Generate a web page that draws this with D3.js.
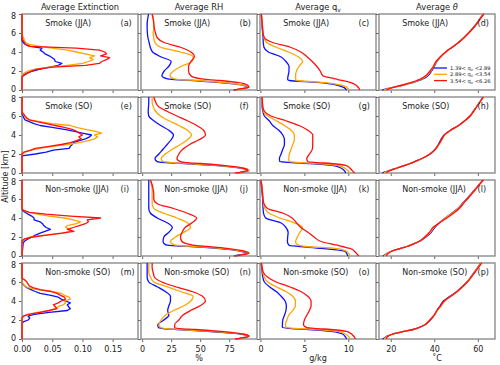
<!DOCTYPE html>
<html>
<head>
<meta charset="utf-8">
<script src="https://cdn.jsdelivr.net/npm/d3@7"></script>
<style>
body { margin: 0; background: #fff; }
svg text { font-family: "DejaVu Sans", sans-serif; fill: #222; }
</style>
</head>
<body>
<div id="chart"></div>
<script>
// altitude grids (km)
var ext_alt = [0, 1.4, 1.6, 1.8, 2.0, 2.2, 2.4, 2.6, 2.8, 3.0, 3.2, 3.4, 3.6, 3.8, 4.0, 4.2, 4.4, 4.6, 4.8, 5.0, 5.2, 5.4, 5.6, 5.8, 6.0, 6.2, 6.4, 8];
var prof_alt = [0, 0.1, 0.2, 0.3, 0.5, 0.8, 1.0, 1.1, 1.2, 1.5, 2.0, 2.5, 3.0, 3.5, 4.0, 4.5, 5.0, 5.5, 6.0, 6.5, 7.0, 7.5, 8.0];

var colTitles = ['Average Extinction', 'Average RH', 'Average q', 'Average '];
var rowNames = ['Smoke (JJA)', 'Smoke (SO)', 'Non-smoke (JJA)', 'Non-smoke (SO)'];
var panelLetters = ['a','b','c','d','e','f','g','h','i','j','k','l','m','n','o','p'];
var legendLabels = [['1.39< q', ' <2.89'], ['2.89< q', ' <3.54'], ['3.54< q', ' <6.26']];
var xUnits = ['', '%', 'g/kg', '\u02DAC'];
var yTicks = [0, 2, 4, 6, 8];
var xTicks = [[0, 0.05, 0.10, 0.15], [0, 25, 50, 75], [0, 5, 10], [20, 40, 60]];

// extinction
var ext_a_blue = [0, 0, 0.003, 0.009, 0.018, 0.03, 0.046, 0.06, 0.066, 0.055, 0.054, 0.05, 0.045, 0.038, 0.035, 0.03, 0.033, 0.014, 0.005, 0.002, 0, 0, 0, 0, 0, 0, 0, 0];
var ext_a_orange = [0, 0, 0, 0.004, 0.01, 0.022, 0.045, 0.075, 0.1, 0.11, 0.118, 0.112, 0.12, 0.105, 0.09, 0.075, 0.05, 0.03, 0.012, 0.006, 0.004, 0.003, 0.002, 0, 0, 0, 0, 0];
var ext_a_red = [0, 0, 0.005, 0.01, 0.016, 0.025, 0.05, 0.105, 0.128, 0.132, 0.14, 0.145, 0.13, 0.14, 0.137, 0.128, 0.09, 0.012, 0.006, 0.004, 0.002, 0, 0, 0, 0, 0, 0, 0];
var ext_e_blue = [0, 0, 0, 0, 0.022, 0.04, 0.052, 0.078, 0.08, 0.083, 0.085, 0.095, 0.105, 0.112, 0.115, 0.1, 0.085, 0.07, 0.05, 0.03, 0.02, 0.012, 0.005, 0.003, 0.002, 0, 0, 0];
var ext_e_orange = [0, 0, 0, 0, 0, 0.005, 0.015, 0.03, 0.05, 0.075, 0.095, 0.11, 0.12, 0.125, 0.12, 0.132, 0.12, 0.105, 0.09, 0.08, 0.05, 0.03, 0.012, 0.006, 0.004, 0.002, 0, 0];
var ext_e_red = [0, 0, 0, 0, 0, 0.003, 0.015, 0.022, 0.045, 0.065, 0.08, 0.09, 0.098, 0.094, 0.1, 0.095, 0.09, 0.083, 0.07, 0.055, 0.04, 0.025, 0.012, 0.008, 0.005, 0.003, 0, 0];
var ext_i_blue = [0, 0.002, 0.005, 0.01, 0.016, 0.022, 0.03, 0.038, 0.047, 0.04, 0.036, 0.034, 0.03, 0.02, 0.02, 0.016, 0.01, 0.005, 0.001, 0, 0, 0, 0, 0, 0, 0, 0, 0];
var ext_i_orange = [0, 0, 0, 0.006, 0.013, 0.04, 0.07, 0.078, 0.08, 0.072, 0.075, 0.09, 0.097, 0.085, 0.07, 0.045, 0.025, 0.012, 0.003, 0, 0, 0, 0, 0, 0, 0, 0, 0];
var ext_i_red = [0, 0, 0, 0.004, 0.018, 0.04, 0.065, 0.086, 0.075, 0.085, 0.095, 0.105, 0.11, 0.108, 0.13, 0.08, 0.04, 0.012, 0.002, 0, 0, 0, 0, 0, 0, 0, 0, 0];
var ext_m_blue = [0, 0, 0, 0.002, 0.01, 0.013, 0.01, 0.02, 0.045, 0.075, 0.08, 0.077, 0.075, 0.08, 0.072, 0.065, 0.06, 0.048, 0.03, 0.022, 0.015, 0.008, 0.004, 0.001, 0, 0, 0, 0];
var ext_m_orange = [0, 0, 0, 0, 0, 0, 0.003, 0.012, 0.025, 0.045, 0.055, 0.06, 0.068, 0.072, 0.07, 0.08, 0.078, 0.07, 0.065, 0.05, 0.025, 0.01, 0.004, 0.002, 0, 0, 0, 0];
var ext_m_red = [0, 0, 0, 0, 0, 0, 0.002, 0.01, 0.03, 0.045, 0.058, 0.055, 0.052, 0.06, 0.065, 0.072, 0.07, 0.064, 0.058, 0.048, 0.03, 0.018, 0.012, 0.01, 0.008, 0.005, 0, 0];

// relative humidity (%)
var rh_b_blue = [79, 84, 89, 91, 87, 65, 44, 28, 21, 17, 19, 23, 25, 16, 9, 7, 6, 5, 4.5, 4.3, 4.3, 4.8, 5.5];
var rh_b_orange = [80, 85, 90, 92, 88, 68, 48, 32, 27, 24, 27, 34, 43, 44, 33, 16, 11, 10, 9.5, 10, 10, 9.5, 8.6];
var rh_b_red = [79, 83, 89, 92, 91, 82, 67, 57, 50, 42, 40, 40, 42, 45, 42, 33, 19, 13, 11.5, 10.5, 10, 9.5, 8.6];
var rh_f_blue = [82, 86, 91, 92, 86, 62, 36, 20, 13, 11, 14.4, 18, 21.5, 25, 27, 23, 16, 10, 5.7, 5.2, 5.5, 5.7, 5.7];
var rh_f_orange = [82, 86, 90, 92, 87, 64, 40, 25, 18, 16.4, 20, 26, 33, 39, 42.5, 39, 31.6, 23, 15.8, 11.5, 9.5, 8.6, 8.6];
var rh_f_red = [80, 85, 89, 91, 87, 70, 50, 38, 33, 30, 31.6, 35, 41, 49, 54.6, 53, 47, 39, 30, 21.5, 14, 11.5, 10];
var rh_j_blue = [79, 82, 88, 90.5, 85, 65, 42, 26, 20, 18, 18.7, 23, 26, 21.5, 13, 7.2, 5.7, 5.7, 5.7, 5.7, 5.7, 5.7, 5.7];
var rh_j_orange = [80, 84, 89, 92, 87, 68, 48, 32, 27, 24.4, 28.7, 36, 41.7, 39, 30, 18.7, 10, 8.6, 8.6, 8.6, 8.6, 7.9, 7.2];
var rh_j_red = [80, 85, 90, 92, 88, 73, 56, 47, 42, 34.5, 33, 34.5, 37, 43, 47, 39, 27, 13, 10, 10, 9.5, 8.6, 7.2];
var rh_n_blue = [82, 85, 90, 92, 86, 56, 30, 18, 14, 13.5, 18.7, 23, 22, 23, 24.4, 24.4, 20, 13, 5.7, 4.3, 4.3, 4.3, 4.3];
var rh_n_orange = [82, 86, 90, 92, 87, 60, 33, 20, 16, 14.4, 16.4, 20, 27, 36, 42, 44, 33, 21.5, 10, 7.2, 5.7, 5.7, 5.7];
var rh_n_red = [80, 85, 90, 92, 88, 68, 46, 32, 28, 28, 31.6, 35, 41.7, 50, 54.6, 52, 43, 28.7, 17, 10.6, 9.5, 8.6, 8.6];

// water vapour mixing ratio (g/kg)
var qv_c_blue = [9.8, 9.7, 9.6, 9.4, 8.8, 6.5, 3.3, 3.1, 3.1, 3.15, 3.25, 3.25, 2.9, 2.3, 0.9, 0.4, 0.32, 0.3, 0.25, 0.2, 0.18, 0.15, 0.1];
var qv_c_orange = [10.1, 10.0, 9.9, 9.8, 9.2, 7.0, 4.2, 4.0, 4.0, 4.0, 4.1, 4.4, 4.8, 4.3, 3.2, 1.8, 0.7, 0.4, 0.3, 0.25, 0.2, 0.15, 0.1];
var qv_c_red = [11.3, 11.25, 11.2, 11.1, 10.9, 10.2, 9.3, 8.8, 8.4, 7.1, 6.8, 6.4, 5.9, 5.3, 4.6, 3.4, 1.4, 0.45, 0.3, 0.25, 0.2, 0.15, 0.1];
var qv_g_blue = [9.7, 9.65, 9.6, 9.5, 9.2, 8.2, 5.6, 3.5, 2.2, 2.16, 2.35, 2.54, 2.73, 2.73, 2.54, 2.1, 1.4, 1.0, 0.45, 0.27, 0.19, 0.19, 0.19];
var qv_g_orange = [10.1, 10.05, 10.0, 9.9, 9.6, 8.8, 6.5, 4.6, 3.3, 3.22, 3.3, 3.48, 3.67, 3.86, 3.86, 3.48, 2.73, 1.8, 0.83, 0.34, 0.27, 0.22, 0.19];
var qv_g_red = [10.7, 10.6, 10.5, 10.4, 10.2, 9.7, 8.0, 6.5, 5.4, 5.27, 5.57, 5.9, 5.95, 5.95, 5.95, 5.4, 4.4, 2.9, 1.2, 0.45, 0.27, 0.22, 0.19];
var qv_k_blue = [9.95, 9.9, 9.85, 9.8, 9.6, 7.0, 4.5, 3.3, 3.2, 3.07, 3.1, 3.15, 2.9, 2.3, 0.6, 0.35, 0.3, 0.27, 0.25, 0.2, 0.15, 0.1, 0.05];
var qv_k_orange = [10.2, 10.15, 10.1, 10.0, 9.8, 8.5, 5.2, 4.5, 4.2, 4.0, 4.2, 4.5, 4.8, 3.8, 2.2, 1.0, 0.5, 0.35, 0.3, 0.25, 0.2, 0.15, 0.05];
var qv_k_red = [11.2, 11.1, 11.0, 10.9, 10.7, 10.2, 9.3, 8.9, 8.4, 7.0, 6.1, 5.4, 4.6, 4.1, 3.6, 2.6, 0.8, 0.4, 0.3, 0.25, 0.2, 0.15, 0.05];
var qv_o_blue = [9.8, 9.75, 9.7, 9.6, 9.4, 8.0, 5.5, 3.5, 2.5, 2.5, 2.54, 2.73, 2.9, 2.95, 2.8, 2.35, 1.8, 1.02, 0.45, 0.27, 0.19, 0.15, 0.08];
var qv_o_orange = [10.2, 10.15, 10.1, 10.0, 9.7, 8.8, 6.5, 4.5, 2.9, 2.85, 3.0, 3.22, 3.67, 3.98, 3.98, 3.67, 2.9, 1.78, 0.83, 0.45, 0.27, 0.2, 0.1];
var qv_o_red = [10.8, 10.75, 10.7, 10.6, 10.4, 9.8, 8.0, 6.5, 5.3, 4.9, 5.0, 5.27, 5.57, 5.76, 5.76, 5.38, 4.6, 3.3, 1.8, 0.83, 0.34, 0.2, 0.12];

// potential temperature (deg C)
var th_d_blue = [16.0, 17.5, 19.5, 21.5, 25.5, 30.5, 33, 34, 35, 37, 38.8, 40, 41.2, 43, 45.3, 48.2, 51, 53.5, 55.7, 57.7, 59.5, 61, 62.6];
var th_d_orange = [16.8, 18, 19.8, 21.5, 25.3, 30, 32.5, 33.5, 34.5, 36.5, 38.4, 39.8, 41, 43, 45.2, 48.2, 51, 53.5, 55.7, 57.7, 59.5, 61, 62.6];
var th_d_red = [18, 18.8, 20, 21.6, 25, 29.5, 32, 33, 34, 36, 38, 39.6, 40.8, 42.8, 45.2, 48.2, 51.2, 53.7, 55.8, 57.8, 59.6, 61.1, 62.8];
var th_h_blue = [16.2, 17.0, 18.5, 19.7, 22.5, 26.5, 29, 30, 31, 34.2, 38.1, 40.4, 41.9, 43, 44.5, 47.5, 51.1, 54, 56.4, 58, 59.5, 61, 62.3];
var th_h_orange = [17.0, 17.6, 18.8, 19.9, 22.5, 26.5, 29, 30, 31, 34.2, 38, 40.6, 42.2, 43.5, 44.8, 47.6, 51.2, 54, 56.4, 58, 59.5, 61, 62.5];
var th_h_red = [18.0, 18.3, 19.2, 20.2, 22.6, 26.5, 29, 30, 31, 34, 38, 40.5, 42, 43.3, 44.6, 47.5, 51.2, 54, 56.5, 58.1, 59.6, 61.1, 62.6];
var th_l_blue = [16.4, 17.2, 17.8, 18.5, 20.2, 24.5, 27.4, 28.6, 29.6, 32.8, 36.2, 38.6, 40.2, 42.3, 45, 48, 50.8, 52.8, 54.8, 56.8, 58.7, 60.5, 62.3];
var th_l_orange = [17.0, 17.5, 18.0, 18.6, 20.3, 24.5, 27.4, 28.6, 29.6, 32.7, 35.8, 38.2, 39.8, 42.3, 45.2, 48.3, 51, 53, 55, 57, 58.8, 60.6, 62.4];
var th_l_red = [18.0, 18.2, 18.5, 19.0, 20.5, 24.5, 27.5, 28.7, 29.8, 32.7, 35.6, 37.8, 39.4, 42.5, 45.8, 48.8, 51.5, 53.3, 55.2, 57.1, 58.9, 60.7, 62.6];
var th_p_blue = [16.2, 17.0, 17.6, 18.3, 20.5, 26, 30.4, 31.8, 33, 35.8, 38.2, 40, 41.2, 42.7, 44.2, 47.2, 50.3, 52.7, 55, 56.7, 58.3, 59.8, 61.3];
var th_p_orange = [17.0, 17.4, 17.9, 18.5, 20.6, 26, 30.3, 31.7, 32.9, 35.7, 38, 40, 41.4, 43.2, 44.8, 47.6, 50.5, 52.8, 55, 56.8, 58.4, 59.9, 61.5];
var th_p_red = [18.0, 18.1, 18.3, 18.8, 20.8, 26, 30.2, 31.6, 32.8, 35.6, 38, 39.9, 41.2, 42.9, 44.6, 47.6, 50.6, 53, 55.2, 57, 58.6, 60.2, 61.8];

var grid = [
  [[ext_a_blue, ext_a_orange, ext_a_red], [rh_b_blue, rh_b_orange, rh_b_red], [qv_c_blue, qv_c_orange, qv_c_red], [th_d_blue, th_d_orange, th_d_red]],
  [[ext_e_blue, ext_e_orange, ext_e_red], [rh_f_blue, rh_f_orange, rh_f_red], [qv_g_blue, qv_g_orange, qv_g_red], [th_h_blue, th_h_orange, th_h_red]],
  [[ext_i_blue, ext_i_orange, ext_i_red], [rh_j_blue, rh_j_orange, rh_j_red], [qv_k_blue, qv_k_orange, qv_k_red], [th_l_blue, th_l_orange, th_l_red]],
  [[ext_m_blue, ext_m_orange, ext_m_red], [rh_n_blue, rh_n_orange, rh_n_red], [qv_o_blue, qv_o_orange, qv_o_red], [th_p_blue, th_p_orange, th_p_red]]
];

var colors = ['#1010ff', '#ffa500', '#ff1010'];

//Basic setting
var w = 500, h = 365;
var lefts = [22, 141, 260, 379], tops = [14, 97, 180, 263];
var pw = 116, ph = 76;
var fs = 8;

var svg = d3.select('#chart').append('svg')
  .attr('width', w)
  .attr('height', h);

var xs = [
  d3.scaleLinear().domain([0, 0.192]).range([0, pw]),
  d3.scaleLinear().domain([-1, 99]).range([0, pw]),
  d3.scaleLinear().domain([-0.05, 13.15]).range([0, pw]),
  d3.scaleLinear().domain([14.6, 67.9]).range([0, pw])
];
var y = d3.scaleLinear().domain([0, 8]).range([ph, 0]);
var fmt = [d3.format('.2f'), d3.format('d'), d3.format('d'), d3.format('d')];

// lines may sit on the spine (extinction = 0), so clip a touch wider
svg.append('defs').append('clipPath').attr('id', 'clip')
  .append('rect').attr('x', -1).attr('y', -1).attr('width', pw + 2).attr('height', ph + 2);

grid.forEach(function(row, r) {
  row.forEach(function(series, c) {
    var x = xs[c];
    var alts = c === 0 ? ext_alt : prof_alt;
    var g = svg.append('g').attr('transform', 'translate(' + [lefts[c], tops[r]] + ')');

    // axes
    var ya = g.append('g').call(d3.axisLeft(y).tickValues(yTicks).tickSize(3)
      .tickFormat(c === 0 ? d3.format('d') : ''));
    var xa = g.append('g').attr('transform', 'translate(0,' + ph + ')')
      .call(d3.axisBottom(x).tickValues(xTicks[c]).tickSize(3)
        .tickFormat(r === 3 ? fmt[c] : ''));
    [ya, xa].forEach(function(a) {
      a.select('.domain').remove();
      a.selectAll('line').attr('stroke', '#666');
      a.selectAll('text').attr('font-size', fs).attr('fill', '#222')
        .attr('font-family', '"DejaVu Sans", sans-serif');
    });
    xa.selectAll('text').attr('dy', '0.85em');
    // keep the 0 and 8 labels of stacked rows apart
    ya.selectAll('text').attr('dy', function(d) {
      return d === 0 ? '0.15em' : d === 8 ? '0.55em' : '0.32em';
    });

    // frame
    g.append('rect').attr('width', pw).attr('height', ph)
      .attr('fill', 'none').attr('stroke', '#8c8c8c').attr('stroke-width', 1.4);

    // profiles
    var line = d3.line()
      .x(function(d) { return x(d[1]); })
      .y(function(d) { return y(d[0]); })
      .curve(c === 0 ? d3.curveLinear : d3.curveMonotoneY);
    var lg = g.append('g').attr('clip-path', 'url(#clip)');
    series.forEach(function(vals, k) {
      lg.append('path')
        .datum(alts.map(function(a, i) { return [a, vals[i]]; }))
        .attr('d', line)
        .attr('fill', 'none')
        .attr('stroke', colors[k])
        .attr('stroke-width', 1.3)
        .attr('stroke-linejoin', 'round');
    });

    // panel text
    g.append('text').attr('x', pw * 0.2).attr('y', 12)
      .attr('font-size', fs).text(rowNames[r]);
    g.append('text').attr('x', pw * 0.85).attr('y', 12)
      .attr('font-size', fs).text('(' + panelLetters[r * 4 + c] + ')');
  });
});

// column titles
colTitles.forEach(function(t, c) {
  var tx = svg.append('text').attr('x', lefts[c] + pw / 2).attr('y', 9.5)
    .attr('text-anchor', 'middle').attr('font-size', 8.3).text(t);
  if (c === 2) tx.append('tspan').attr('font-size', 6).attr('dy', 2).text('v');
  if (c === 3) tx.append('tspan').attr('font-style', 'italic').text('\u03B8');
});

// x labels
xUnits.forEach(function(u, c) {
  if (!u) return;
  svg.append('text').attr('x', lefts[c] + pw / 2).attr('y', 361)
    .attr('text-anchor', 'middle').attr('font-size', fs).text(u);
});

// y label
svg.append('text')
  .attr('transform', 'translate(8,' + (tops[0] + (tops[3] + ph - tops[0]) / 2) + ') rotate(-90)')
  .attr('text-anchor', 'middle').attr('font-size', fs).text('Altitude [km]');

// legend in panel (d)
var leg = svg.append('g').attr('transform', 'translate(434,68)');
legendLabels.forEach(function(l, k) {
  leg.append('line').attr('x1', 0).attr('x2', 13).attr('y1', k * 6.3).attr('y2', k * 6.3)
    .attr('stroke', colors[k]).attr('stroke-width', 1.3);
  var t = leg.append('text').attr('x', 16).attr('y', k * 6.3 + 2).attr('font-size', 5.2).text(l[0]);
  t.append('tspan').attr('font-size', 3.8).attr('dy', 1).text('v');
  t.append('tspan').attr('dy', -1).text(l[1]);
});
</script>
</body>
</html>
